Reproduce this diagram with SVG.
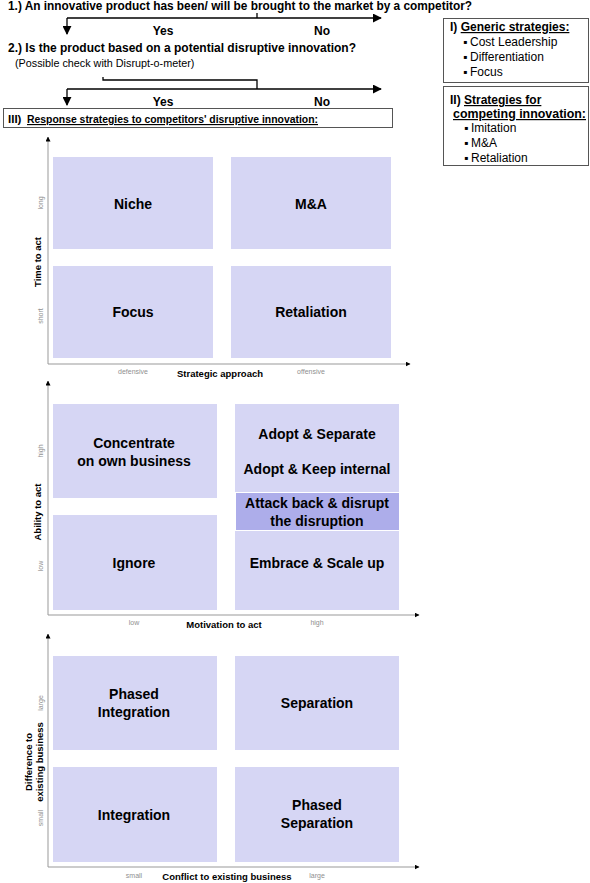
<svg xmlns="http://www.w3.org/2000/svg" width="590" height="883" viewBox="0 0 590 883">
<defs>
<marker id="ah" viewBox="0 0 10 10" refX="9" refY="5" markerWidth="5" markerHeight="5" orient="auto" markerUnits="userSpaceOnUse"><path d="M0,0 L10,5 L0,10 z" fill="#000"/></marker>
<marker id="ahb" viewBox="0 0 10 10" refX="9" refY="5" markerWidth="9" markerHeight="9" orient="auto" markerUnits="userSpaceOnUse"><path d="M0,0 L10,5 L0,10 z" fill="#000"/></marker>
</defs>
<style>
text{font-family:"Liberation Sans",Arial,sans-serif}
.q{font-size:12px;font-weight:bold;fill:#000}
.n{font-size:10.8px;fill:#000}
.yn{font-size:12px;font-weight:bold;fill:#000;text-anchor:middle}
.box{fill:#fff;stroke:#555;stroke-width:1}
.li{font-size:12px;fill:#000}
.lb{font-size:12px;font-weight:bold;fill:#000}
.flow{fill:none;stroke:#000;stroke-width:1.3}
.axis{fill:none;stroke:#999;stroke-width:1}
.cell{fill:#d6d6f4}
.hl{fill:#adadea}
.ct{font-size:14px;font-weight:bold;fill:#000;text-anchor:middle}
.at{font-size:9.5px;font-weight:bold;fill:#000;text-anchor:middle}
.tk{font-size:7px;fill:#8f8f8f;text-anchor:middle}
</style>

<g id="q1"><text class="q" x="8" y="10" textLength="464" lengthAdjust="spacingAndGlyphs">1.) An innovative product has been/ will be brought to the market by a competitor?</text></g>
<g id="q2"><text class="q" x="8" y="52">2.) Is the product based on a potential disruptive innovation?</text>
<text class="n" x="15" y="67">(Possible check with Disrupt-o-meter)</text></g>

<g id="connectors">
<path class="flow" d="M257,13 V18"/>
<path class="flow" d="M67,18 H381" marker-end="url(#ahb)"/>
<path class="flow" d="M67,18 V34" marker-end="url(#ahb)"/>
<path class="flow" d="M103,77 V80 H257 V89"/>
<path class="flow" d="M67,89 H381" marker-end="url(#ahb)"/>
<path class="flow" d="M67,89 V105" marker-end="url(#ahb)"/>
</g>
<g id="yn1"><text class="yn" x="163" y="35">Yes</text><text class="yn" x="322" y="35">No</text></g>
<g id="yn2"><text class="yn" x="163" y="106">Yes</text><text class="yn" x="322" y="106">No</text></g>

<g id="boxI">
<rect class="box" x="443.5" y="18.5" width="145" height="64"/>
<text class="lb" x="450" y="31">I) <tspan text-decoration="underline">Generic strategies:</tspan></text>
<text class="li" x="463" y="46">▪</text><text class="li" x="470" y="46">Cost Leadership</text>
<text class="li" x="463" y="61">▪</text><text class="li" x="470" y="61">Differentiation</text>
<text class="li" x="463" y="76">▪</text><text class="li" x="470" y="76">Focus</text>
</g>
<g id="boxII">
<rect class="box" x="443.5" y="86.5" width="145" height="79"/>
<text class="lb" x="450" y="104">II) <tspan text-decoration="underline">Strategies for</tspan></text>
<text class="lb" x="453" y="118" text-decoration="underline" textLength="133" lengthAdjust="spacingAndGlyphs">competing innovation:</text>
<text class="li" x="464" y="132">▪</text><text class="li" x="471" y="132">Imitation</text>
<text class="li" x="464" y="147">▪</text><text class="li" x="471" y="147">M&amp;A</text>
<text class="li" x="464" y="162">▪</text><text class="li" x="471" y="162">Retaliation</text>
</g>
<g id="boxIII">
<rect class="box" x="3.5" y="108.5" width="389" height="19"/>
<text class="lb" x="8" y="123" style="font-size:11.5px">III)</text>
<text class="lb" x="27" y="123" style="font-size:11.5px" text-decoration="underline" textLength="291" lengthAdjust="spacingAndGlyphs">Response strategies to competitors' disruptive innovation:</text>
</g>

<g id="chart1">
<path class="axis" d="M48,364 V137" marker-end="url(#ah)"/>
<path class="axis" d="M48,364 H410" marker-end="url(#ah)"/>
<g id="c1-niche"><rect class="cell" x="53" y="157" width="160" height="92"/><text class="ct" x="133" y="209">Niche</text></g>
<g id="c1-ma"><rect class="cell" x="231" y="157" width="160" height="92"/><text class="ct" x="311" y="209">M&amp;A</text></g>
<g id="c1-focus"><rect class="cell" x="53" y="266" width="160" height="92"/><text class="ct" x="133" y="317">Focus</text></g>
<g id="c1-ret"><rect class="cell" x="231" y="266" width="160" height="92"/><text class="ct" x="311" y="317">Retaliation</text></g>
<text class="tk" transform="translate(43,203) rotate(-90)">long</text>
<text class="tk" transform="translate(43,316) rotate(-90)">short</text>
<text class="at" transform="translate(41,262) rotate(-90)">Time to act</text>
<text class="tk" x="133" y="374">defensive</text>
<text class="tk" x="311" y="374">offensive</text>
<text class="at" x="220" y="377">Strategic approach</text>
</g>

<g id="chart2">
<path class="axis" d="M48,615 V381" marker-end="url(#ah)"/>
<path class="axis" d="M48,615 H419" marker-end="url(#ah)"/>
<g id="c2-conc"><rect class="cell" x="53" y="404" width="164" height="94"/><text class="ct" x="134" y="448">Concentrate</text><text class="ct" x="134" y="466">on own business</text></g>
<g id="c2-adopt"><rect class="cell" x="235" y="404" width="164" height="88"/><text class="ct" x="317" y="439">Adopt &amp; Separate</text><text class="ct" x="317" y="474">Adopt &amp; Keep internal</text></g>
<g id="c2-attack"><rect class="hl" x="236" y="493" width="163" height="37"/><text class="ct" x="317" y="508">Attack back &amp; disrupt</text><text class="ct" x="317" y="526">the disruption</text></g>
<g id="c2-ignore"><rect class="cell" x="53" y="515" width="164" height="95"/><text class="ct" x="134" y="568">Ignore</text></g>
<g id="c2-embrace"><rect class="cell" x="235" y="531" width="164" height="79"/><text class="ct" x="317" y="568">Embrace &amp; Scale up</text></g>
<text class="tk" transform="translate(43,451) rotate(-90)">high</text>
<text class="tk" transform="translate(43,566) rotate(-90)">low</text>
<text class="at" transform="translate(41,512) rotate(-90)">Ability to act</text>
<text class="tk" x="134" y="625">low</text>
<text class="tk" x="317" y="625">high</text>
<text class="at" x="224" y="628">Motivation to act</text>
</g>

<g id="chart3">
<path class="axis" d="M48,867 V634" marker-end="url(#ah)"/>
<path class="axis" d="M48,867 H419" marker-end="url(#ah)"/>
<g id="c3-pint"><rect class="cell" x="53" y="656" width="164" height="94"/><text class="ct" x="134" y="699">Phased</text><text class="ct" x="134" y="717">Integration</text></g>
<g id="c3-sep"><rect class="cell" x="235" y="656" width="164" height="94"/><text class="ct" x="317" y="708">Separation</text></g>
<g id="c3-int"><rect class="cell" x="53" y="767" width="164" height="95"/><text class="ct" x="134" y="820">Integration</text></g>
<g id="c3-psep"><rect class="cell" x="235" y="767" width="164" height="95"/><text class="ct" x="317" y="810">Phased</text><text class="ct" x="317" y="828">Separation</text></g>
<text class="tk" transform="translate(43,703) rotate(-90)">large</text>
<text class="tk" transform="translate(43,818) rotate(-90)">small</text>
<text class="at" transform="translate(32,762) rotate(-90)">Difference to</text>
<text class="at" transform="translate(43,762) rotate(-90)">existing business</text>
<text class="tk" x="134" y="878">small</text>
<text class="tk" x="317" y="878">large</text>
<text class="at" x="227" y="880">Conflict to existing business</text>
</g>
</svg>
